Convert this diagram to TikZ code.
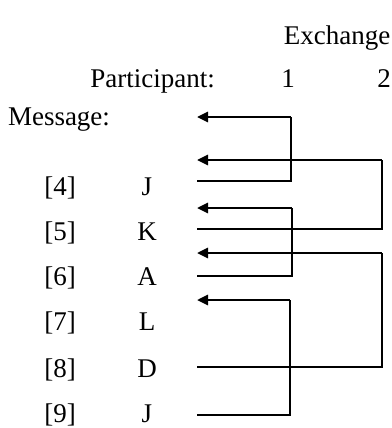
\documentclass[tikz,border=0pt]{standalone}
\usepackage{fontspec}
\setmainfont{Liberation Serif}
\usetikzlibrary{arrows.meta}
\begin{document}
\begin{tikzpicture}[x=1pt,y=1pt,
  lbl/.style={anchor=base,inner sep=0pt,font=\fontsize{27}{31}\selectfont},
  thinline/.style={line width=1.4pt,line join=miter},
  arr/.style={line width=2.6pt,-{Triangle[length=11pt,width=10pt]}}]
\useasboundingbox (0,0) rectangle (391,-428);
\fill[white] (0,0) rectangle (391,-428);
% headers
\node[lbl] (ex) at (337,-45) {Exchange};
\node[lbl] (part) at (152.5,-88) {Participant:};
\node[lbl] (p1) at (288,-88) {1};
\node[lbl] (p2) at (384,-88) {2};
\node[lbl] (msg) at (59,-125) {Message:};
% rows
\node[lbl] (n4) at (60,-195) {[4]}; \node[lbl] (m4) at (147,-195) {J};
\node[lbl] (n5) at (60,-240) {[5]}; \node[lbl] (m5) at (147,-240) {K};
\node[lbl] (n6) at (60,-285) {[6]}; \node[lbl] (m6) at (147,-285) {A};
\node[lbl] (n7) at (60,-330) {[7]}; \node[lbl] (m7) at (147,-330) {L};
\node[lbl] (n8) at (60,-377) {[8]}; \node[lbl] (m8) at (147,-377) {D};
\node[lbl] (n9) at (60,-422) {[9]}; \node[lbl] (m9) at (147,-422) {J};
% start points of the lines
\coordinate (s4) at (197,-181);
\coordinate (s5) at (197,-229);
\coordinate (s6) at (197,-276);
\coordinate (s8) at (197,-367);
\coordinate (s9) at (197,-415);
% corners
\coordinate (c1) at (291,-117);
\coordinate (c2) at (382,-160);
\coordinate (c3) at (292,-208);
\coordinate (c4) at (382,-253);
\coordinate (c5) at (290,-300);
% arrow tips
\coordinate (t1) at (197,-117);
\coordinate (t2) at (197,-160);
\coordinate (t3) at (197,-208);
\coordinate (t4) at (197,-253);
\coordinate (t5) at (197,-300);
% connectors
\draw[thinline] (s4) -| (c1);
\draw[arr] (c1) -- (t1);
\draw[thinline] (s5) -| (c2);
\draw[arr] (c2) -- (t2);
\draw[thinline] (s6) -| (c3);
\draw[arr] (c3) -- (t3);
\draw[thinline] (s8) -| (c4);
\draw[arr] (c4) -- (t4);
\draw[thinline] (s9) -| (c5);
\draw[arr] (c5) -- (t5);
\end{tikzpicture}
\end{document}
